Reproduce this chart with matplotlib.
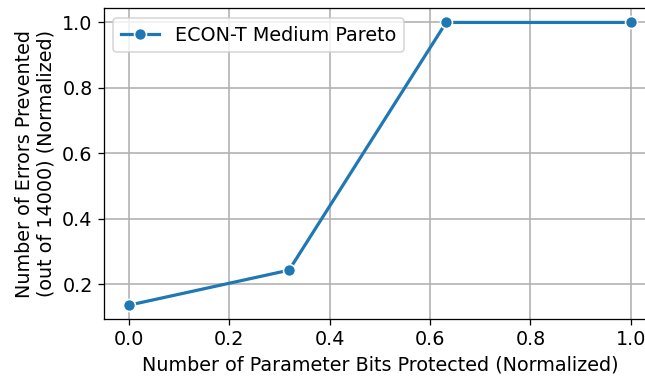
import numpy as np
import matplotlib.pyplot as plt

# normalized bits protected vs. normalized errors prevented
bits_protected = [0.0, 0.319, 0.632, 1.0]
errors_prevented = [0.136, 0.243, 1.0, 1.0]

dpi = 115
fig, ax = plt.subplots(figsize=(645 / dpi, 377 / dpi), dpi=dpi)
fig.subplots_adjust(left=0.161, right=1.017, top=0.978, bottom=0.153)

ax.plot(bits_protected, errors_prevented, color="#1f77b4", linewidth=2,
        marker="o", markersize=7.5, markeredgecolor="white", markeredgewidth=1,
        label="ECON-T Medium Pareto")

ax.set_xlabel("Number of Parameter Bits Protected (Normalized)", fontsize=12)
ax.set_ylabel("Number of Errors Prevented\n(out of 14000) (Normalized)", fontsize=12)
ax.tick_params(labelsize=12)
ax.set_xticks([0.0, 0.2, 0.4, 0.6, 0.8, 1.0])
ax.set_yticks([0.2, 0.4, 0.6, 0.8, 1.0])
ax.grid(True, color="#b0b0b0", linewidth=1)
ax.set_axisbelow(True)
ax.legend(loc="upper left", fontsize=12)

fig.savefig("out.png", dpi=dpi)
